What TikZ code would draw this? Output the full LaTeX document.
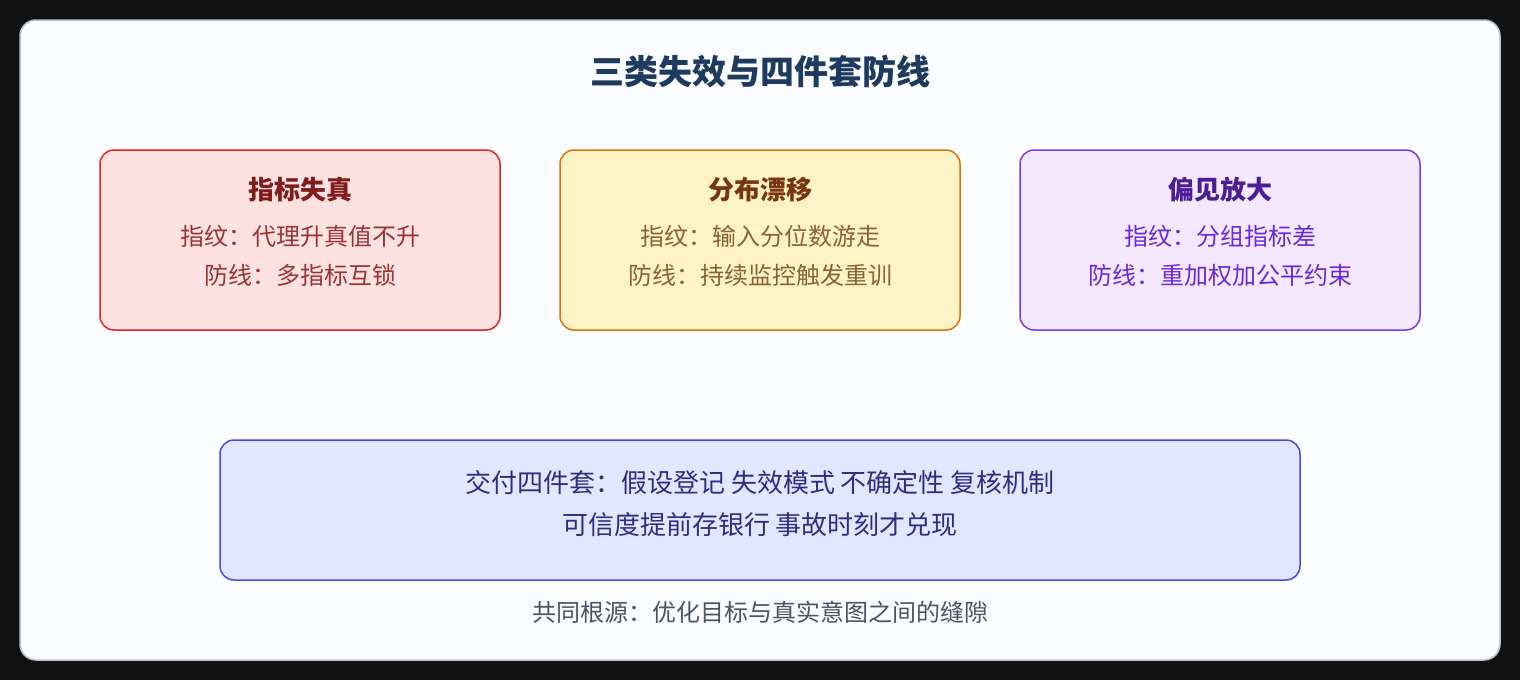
\documentclass[tikz,border=0pt]{standalone}
\usepackage{fontspec}
\setmainfont{Noto Sans CJK SC}
\usepackage{tikz}
\usetikzlibrary{positioning,calc}
\definecolor{pagebg}{HTML}{111111}
\definecolor{cardbg}{HTML}{FAFCFF}
\definecolor{cardline}{HTML}{B8C2D0}
\definecolor{titlecol}{HTML}{1E3A5F}
\definecolor{redfill}{HTML}{FEE2E2}
\definecolor{redline}{HTML}{DC2626}
\definecolor{redhead}{HTML}{7F1D1D}
\definecolor{redtext}{HTML}{9B3434}
\definecolor{yelfill}{HTML}{FEF3C7}
\definecolor{yelline}{HTML}{D97706}
\definecolor{yelhead}{HTML}{78350F}
\definecolor{yeltext}{HTML}{8A6434}
\definecolor{purfill}{HTML}{F3E8FF}
\definecolor{purline}{HTML}{7C3AED}
\definecolor{purhead}{HTML}{4C1D95}
\definecolor{purtext}{HTML}{6D28D9}
\definecolor{blufill}{HTML}{E0E7FF}
\definecolor{bluline}{HTML}{4F46E5}
\definecolor{blutext}{HTML}{312E81}
\definecolor{foottext}{HTML}{4B5563}
\tikzset{failbox/.style={draw, line width=1.5pt, rounded corners=14pt, minimum width=400pt, minimum height=180pt},
head/.style={font=\fontsize{26}{30}\selectfont\bfseries},
body/.style={font=\fontsize{24}{28}\selectfont}}

\begin{document}
\begin{tikzpicture}[x=1pt, y=-1pt]
        \fill[pagebg] (0,0) rectangle (1520,680);
        \draw[fill=cardbg, draw=cardline, line width=1.5pt, rounded corners=16pt] (20,20) rectangle (1500,660);
        \node[font=\fontsize{34}{38}\selectfont\bfseries, text=titlecol] (title) at (760,72) {三类失效与四件套防线};
        
        \node[failbox, fill=redfill, draw=redline] (metric) at (300,240) {};
        \node[head, text=redhead] (metrichead) at (300,190) {指标失真};
        \node[body, text=redtext] (metricsign) at (300,236) {指纹：代理升真值不升};
        \node[body, text=redtext] (metricguard) at (300,275) {防线：多指标互锁};
        
        \node[failbox, fill=yelfill, draw=yelline] (drift) at (760,240) {};
        \node[head, text=yelhead] (drifthead) at (760,190) {分布漂移};
        \node[body, text=yeltext] (driftsign) at (760,236) {指纹：输入分位数游走};
        \node[body, text=yeltext] (driftguard) at (760,275) {防线：持续监控触发重训};
        
        \node[failbox, fill=purfill, draw=purline] (bias) at (1220,240) {};
        \node[head, text=purhead] (biashead) at (1220,190) {偏见放大};
        \node[body, text=purtext] (biassign) at (1220,236) {指纹：分组指标差};
        \node[body, text=purtext] (biasguard) at (1220,275) {防线：重加权加公平约束};
        
        \node[failbox, fill=blufill, draw=bluline, minimum width=1080pt, minimum height=140pt] (kit) at (760,510) {};
        \node[font=\fontsize{26}{30}\selectfont, text=blutext] (kitline1) at (760,483) {交付四件套：假设登记 失效模式 不确定性 复核机制};
        \node[font=\fontsize{26}{30}\selectfont, text=blutext] (kitline2) at (760,525) {可信度提前存银行 事故时刻才兑现};
        
        \node[font=\fontsize{24}{28}\selectfont, text=foottext] (root) at (760,612) {共同根源：优化目标与真实意图之间的缝隙};
    \end{tikzpicture}
\end{document}
